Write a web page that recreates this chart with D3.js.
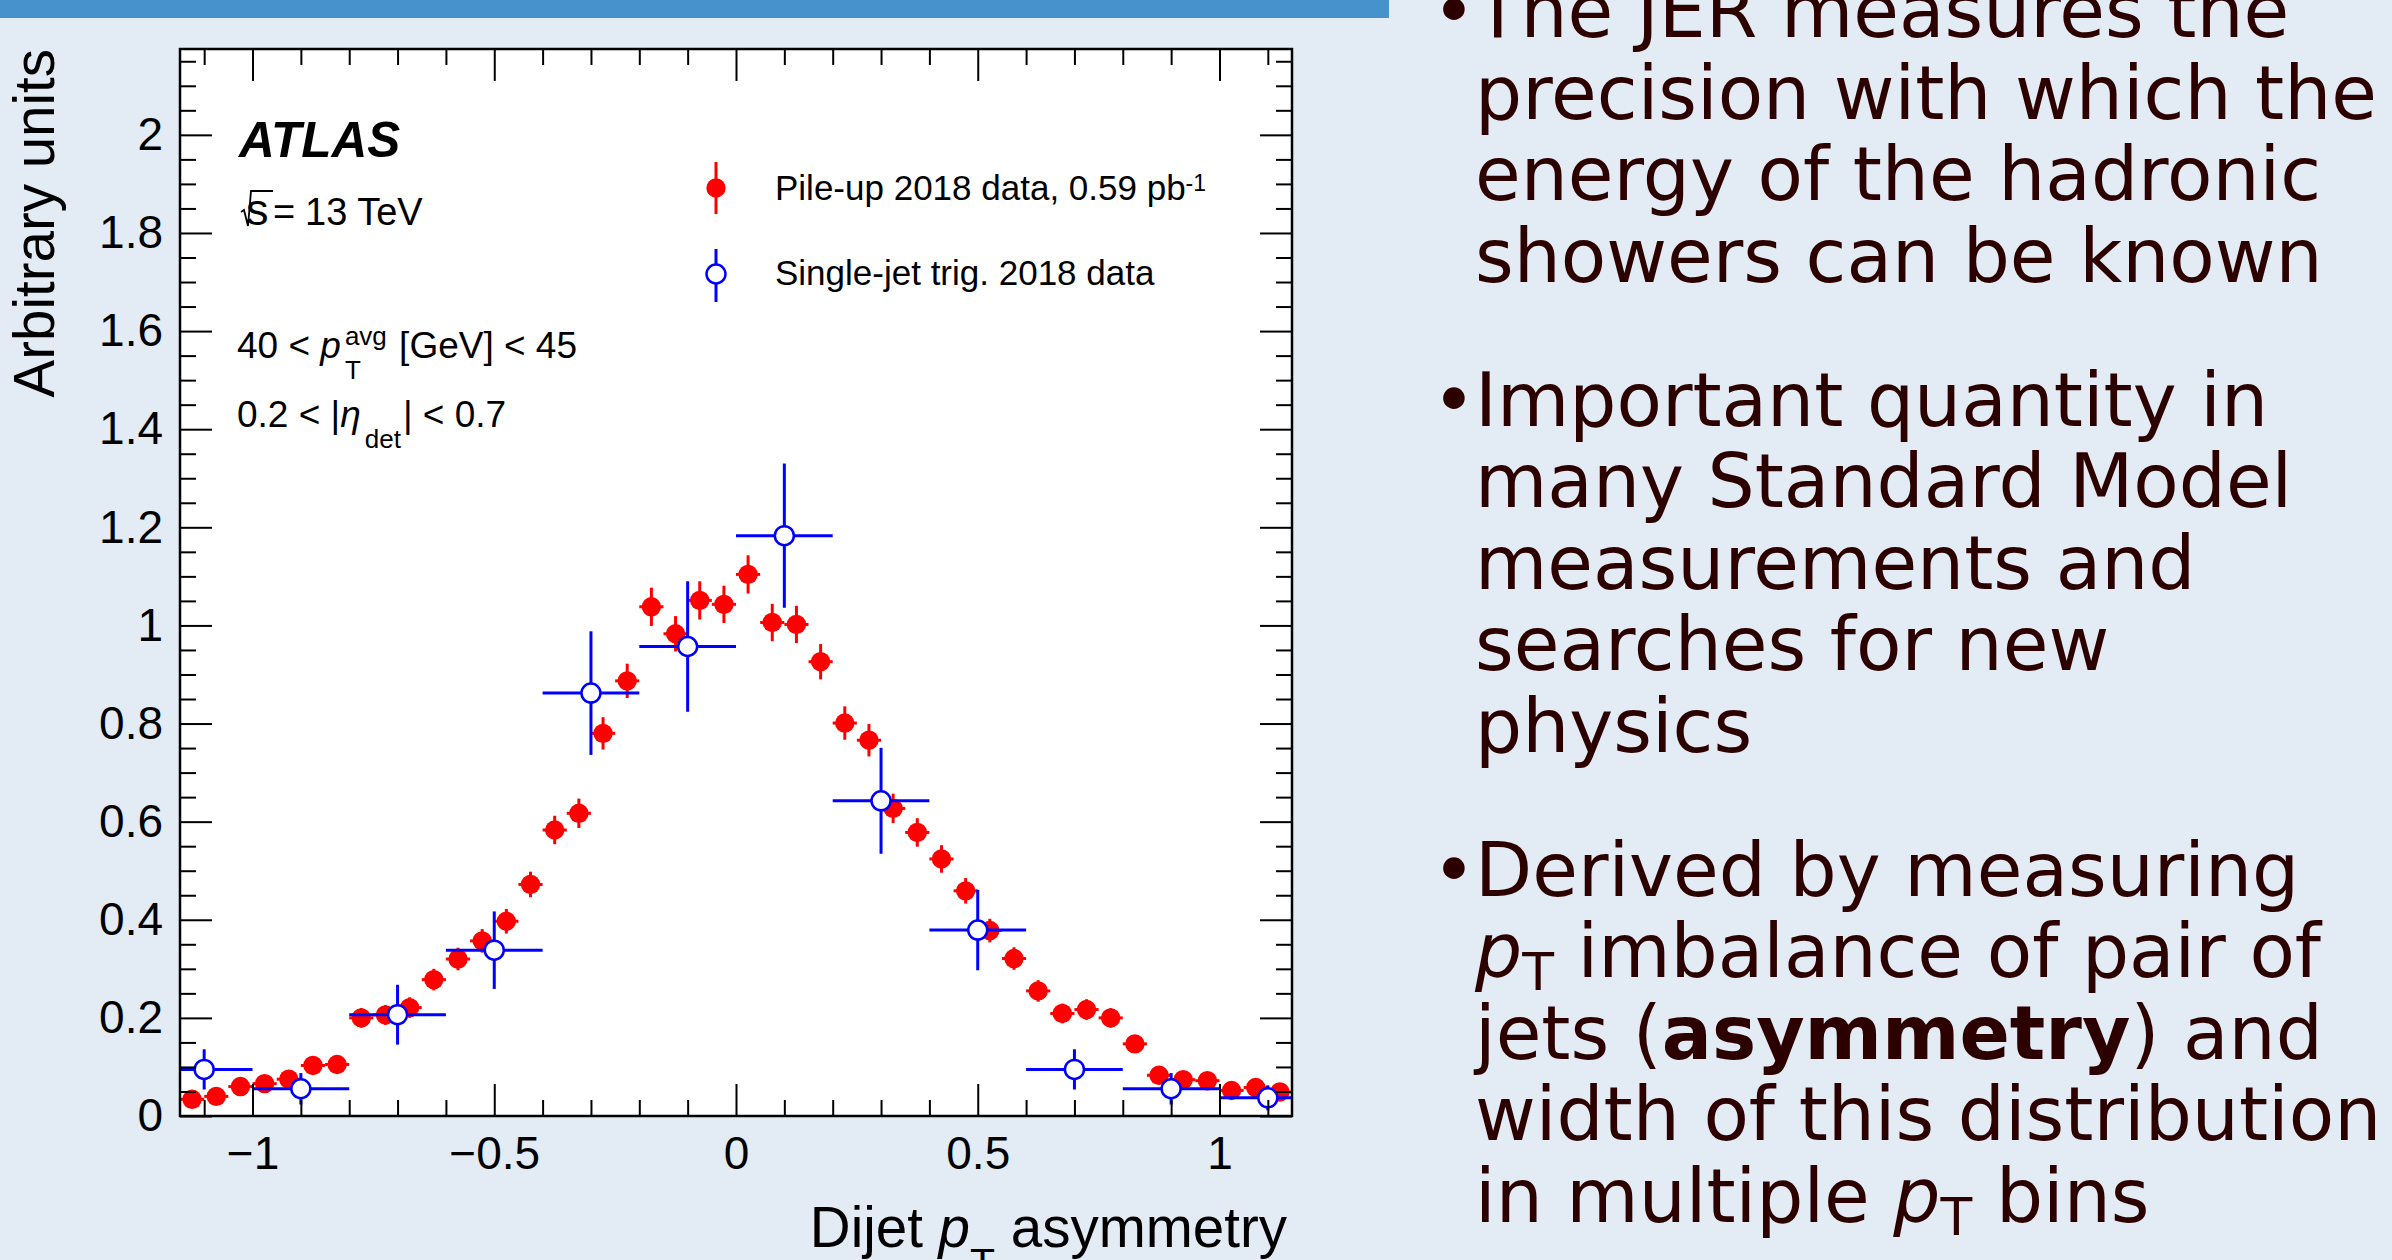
<!DOCTYPE html>
<html>
<head>
<meta charset="utf-8">
<script src="https://cdn.jsdelivr.net/npm/d3@7"></script>
<style>
  body { margin: 0; background: #e3ebf5; }
  text { white-space: pre; }
</style>
</head>
<body>
<svg width="2392" height="1260"></svg>
<script>
// pile-up data, bins of 0.05 in asymmetry
var redX = [-1.125, -1.075, -1.025, -0.975, -0.925, -0.875, -0.825, -0.775, -0.725, -0.675,
            -0.625, -0.575, -0.525, -0.475, -0.425, -0.375, -0.325, -0.275, -0.225, -0.175,
            -0.125, -0.075, -0.025, 0.025, 0.075, 0.125, 0.175, 0.225, 0.275, 0.325,
            0.375, 0.425, 0.475, 0.525, 0.575, 0.625, 0.675, 0.725, 0.775, 0.825,
            0.875, 0.925, 0.975, 1.025, 1.075, 1.125];
var redY = [0.034, 0.040, 0.060, 0.066, 0.075, 0.103, 0.105, 0.200, 0.206, 0.221,
            0.278, 0.320, 0.357, 0.397, 0.472, 0.583, 0.617, 0.780, 0.887, 1.038,
            0.983, 1.051, 1.043, 1.104, 1.006, 1.002, 0.926, 0.801, 0.766, 0.627,
            0.578, 0.524, 0.459, 0.378, 0.321, 0.255, 0.209, 0.217, 0.200, 0.147,
            0.083, 0.074, 0.072, 0.052, 0.058, 0.049];
var redErr = [0.010, 0.011, 0.013, 0.013, 0.014, 0.016, 0.016, 0.020, 0.020, 0.021,
              0.022, 0.023, 0.024, 0.025, 0.026, 0.029, 0.030, 0.033, 0.035, 0.039,
              0.036, 0.039, 0.038, 0.039, 0.038, 0.038, 0.036, 0.034, 0.033, 0.030,
              0.029, 0.028, 0.026, 0.024, 0.023, 0.022, 0.020, 0.021, 0.020, 0.018,
              0.015, 0.014, 0.014, 0.012, 0.012, 0.012];
var redHalfBin = 0.025;

// single-jet trigger data, bins of 0.2
var blueX = [-1.1, -0.9, -0.7, -0.5, -0.3, -0.1, 0.1, 0.3, 0.5, 0.7, 0.9, 1.1];
var blueY = [0.095, 0.0555, 0.2065, 0.338, 0.862, 0.957, 1.183, 0.6425, 0.379, 0.095, 0.0555, 0.037];
var blueErr = [0.041, 0.032, 0.061, 0.079, 0.126, 0.133, 0.147, 0.108, 0.082, 0.041, 0.032, 0.0255];
var blueHalfBin = 0.1;

// axis ticks
var xMajor = [-1, -0.5, 0, 0.5, 1];
var yMajor = [0, 0.2, 0.4, 0.6, 0.8, 1, 1.2, 1.4, 1.6, 1.8, 2];

// bullet text on the right, [style, text] pieces: i italic, s subscript, b bold
var notes = [
  [[["", "The JER measures the"]],
   [["", "precision with which the"]],
   [["", "energy of the hadronic"]],
   [["", "showers can be known"]]],
  [[["", "Important quantity in"]],
   [["", "many Standard Model"]],
   [["", "measurements and"]],
   [["", "searches for new"]],
   [["", "physics"]]],
  [[["", "Derived by measuring"]],
   [["i", "p"], ["s", "T"], ["", " imbalance of pair of"]],
   [["", "jets ("], ["b", "asymmetry"], ["", ") and"]],
   [["", "width of this distribution"]],
   [["", "in multiple "], ["i", "p"], ["s", "T"], ["", " bins"]]]
];

var rootFont = "'Liberation Sans', Arial, Helvetica, sans-serif";

var svg = d3.select("svg");

// header strip
svg.append("rect")
    .attr("x", 0).attr("y", 0)
    .attr("width", 1389).attr("height", 18)
    .attr("fill", "#4791cc");

// frame edges (note: "top" is a reserved window global, so prefixed names)
var fLeft = 180, fRight = 1292, fTop = 49, fBottom = 1116;

var x = d3.scaleLinear().domain([-1.15, 1.15]).range([fLeft, fRight]);
var y = d3.scaleLinear().domain([0, 2.175]).range([fBottom, fTop]);

svg.append("rect")
    .attr("x", fLeft).attr("y", fTop)
    .attr("width", fRight - fLeft).attr("height", fBottom - fTop)
    .attr("fill", "#fff");

svg.append("clipPath").attr("id", "plotclip")
  .append("rect")
    .attr("x", fLeft).attr("y", fTop)
    .attr("width", fRight - fLeft).attr("height", fBottom - fTop);

var plot = svg.append("g").attr("clip-path", "url(#plotclip)");

// red points: error bars then filled markers
var red = plot.append("g").selectAll("g")
    .data(redX.map(function(d, i) { return {x: d, y: redY[i], e: redErr[i]}; }))
  .enter().append("g");
red.append("line")
    .attr("x1", function(d) { return x(d.x); })
    .attr("x2", function(d) { return x(d.x); })
    .attr("y1", function(d) { return y(d.y - d.e); })
    .attr("y2", function(d) { return y(d.y + d.e); })
    .attr("stroke", "#f00").attr("stroke-width", 3);
red.append("line")
    .attr("x1", function(d) { return x(d.x - redHalfBin); })
    .attr("x2", function(d) { return x(d.x + redHalfBin); })
    .attr("y1", function(d) { return y(d.y); })
    .attr("y2", function(d) { return y(d.y); })
    .attr("stroke", "#f00").attr("stroke-width", 3);
red.append("circle")
    .attr("cx", function(d) { return x(d.x); })
    .attr("cy", function(d) { return y(d.y); })
    .attr("r", 9.7)
    .attr("fill", "#f00");

// blue points drawn over the red ones
var blue = plot.append("g").selectAll("g")
    .data(blueX.map(function(d, i) { return {x: d, y: blueY[i], e: blueErr[i]}; }))
  .enter().append("g");
blue.append("line")
    .attr("x1", function(d) { return x(d.x); })
    .attr("x2", function(d) { return x(d.x); })
    .attr("y1", function(d) { return y(d.y - d.e); })
    .attr("y2", function(d) { return y(d.y + d.e); })
    .attr("stroke", "#00f").attr("stroke-width", 3);
blue.append("line")
    .attr("x1", function(d) { return x(d.x - blueHalfBin); })
    .attr("x2", function(d) { return x(d.x + blueHalfBin); })
    .attr("y1", function(d) { return y(d.y); })
    .attr("y2", function(d) { return y(d.y); })
    .attr("stroke", "#00f").attr("stroke-width", 3);
blue.append("circle")
    .attr("cx", function(d) { return x(d.x); })
    .attr("cy", function(d) { return y(d.y); })
    .attr("r", 9.5)
    .attr("fill", "#fff")
    .attr("stroke", "#00f").attr("stroke-width", 2.5);

// axes, ticks pointing inwards like ROOT
var xMinor = d3.range(-11, 12).map(function(i) { return i / 10; })
    .filter(function(v) { return Math.abs(v * 2 - Math.round(v * 2)) > 1e-6; });
var yMinor = d3.range(1, 44).map(function(i) { return i / 20; })
    .filter(function(v) { return Math.abs(v * 5 - Math.round(v * 5)) > 1e-6; });
var fmt = d3.format("~g");

function styleAxis(g) {
  g.select(".domain").remove();
  g.selectAll(".tick line").attr("stroke", "#000").attr("stroke-width", 2);
  g.selectAll("text").attr("fill", "#000");
  g.attr("font-family", rootFont).attr("font-size", 46);
}

svg.append("g").attr("transform", "translate(0," + fBottom + ")")
    .call(d3.axisBottom(x).tickValues(xMajor).tickSize(-32).tickPadding(20).tickFormat(fmt))
    .call(styleAxis);
svg.append("g").attr("transform", "translate(0," + fBottom + ")")
    .call(d3.axisBottom(x).tickValues(xMinor).tickSize(-16).tickFormat(""))
    .call(styleAxis);
svg.append("g").attr("transform", "translate(0," + fTop + ")")
    .call(d3.axisTop(x).tickValues(xMajor).tickSize(-32).tickFormat(""))
    .call(styleAxis);
svg.append("g").attr("transform", "translate(0," + fTop + ")")
    .call(d3.axisTop(x).tickValues(xMinor).tickSize(-16).tickFormat(""))
    .call(styleAxis);
svg.append("g").attr("transform", "translate(" + fLeft + ",0)")
    .call(d3.axisLeft(y).tickValues(yMajor).tickSize(-32).tickPadding(17).tickFormat(fmt))
    .call(styleAxis);
svg.append("g").attr("transform", "translate(" + fLeft + ",0)")
    .call(d3.axisLeft(y).tickValues(yMinor).tickSize(-16).tickFormat(""))
    .call(styleAxis);
svg.append("g").attr("transform", "translate(" + fRight + ",0)")
    .call(d3.axisRight(y).tickValues(yMajor).tickSize(-32).tickFormat(""))
    .call(styleAxis);
svg.append("g").attr("transform", "translate(" + fRight + ",0)")
    .call(d3.axisRight(y).tickValues(yMinor).tickSize(-16).tickFormat(""))
    .call(styleAxis);

svg.append("rect")
    .attr("x", fLeft).attr("y", fTop)
    .attr("width", fRight - fLeft).attr("height", fBottom - fTop)
    .attr("fill", "none").attr("stroke", "#000").attr("stroke-width", 2.5);

// axis titles
var xt = svg.append("text")
    .attr("x", 1287).attr("y", 1247)
    .attr("text-anchor", "end")
    .attr("font-family", rootFont).attr("font-size", 56.5);
xt.append("tspan").text("Dijet ");
xt.append("tspan").attr("font-style", "italic").text("p");
xt.append("tspan").attr("font-size", 41).attr("dy", 30).text("T");
xt.append("tspan").attr("dy", -30).text(" asymmetry");

svg.append("text")
    .attr("transform", "translate(54," + fTop + ") rotate(-90)")
    .attr("text-anchor", "end")
    .attr("font-family", rootFont).attr("font-size", 56.5)
    .text("Arbitrary units");

// labels inside the frame
svg.append("text")
    .attr("x", 239).attr("y", 157)
    .attr("font-family", rootFont).attr("font-size", 49.5)
    .attr("font-weight", "bold").attr("font-style", "italic")
    .text("ATLAS");

// sqrt(s) drawn as a radical sign over a bigger s
svg.append("path")
    .attr("d", "M241,212 L244,210 L248,226 L251,191 L273,191")
    .attr("fill", "none").attr("stroke", "#000").attr("stroke-width", 1.8);
var sq = svg.append("g").attr("font-family", rootFont);
sq.append("text").attr("x", 246).attr("y", 225).attr("font-size", 45).text("s");
sq.append("text").attr("x", 273).attr("y", 225).attr("font-size", 38).text("=");
sq.append("text").attr("x", 305).attr("y", 225).attr("font-size", 38).text("13 TeV");

// text with a stacked sub/superscript after the main symbol
function scriptLabel(px, py, before, symbol, sub, sup, after) {
  var t = svg.append("text")
      .attr("x", px).attr("y", py)
      .attr("font-family", rootFont).attr("font-size", 37);
  t.append("tspan").text(before);
  t.append("tspan").attr("font-style", "italic").text(symbol);
  var sx = px + t.node().getComputedTextLength() + 4;
  var w = 0;
  if (sup) {
    var a = t.append("tspan").attr("x", sx).attr("y", py - 13).attr("font-size", 26).text(sup);
    w = Math.max(w, a.node().getComputedTextLength());
  }
  var b = t.append("tspan").attr("x", sx).attr("y", py + 21).attr("font-size", 26).text(sub);
  w = Math.max(w, b.node().getComputedTextLength());
  t.append("tspan").attr("x", sx + w + 2).attr("y", py).text(after);
}
scriptLabel(237, 358, "40 < ", "p", "T", "avg", " [GeV] < 45");
scriptLabel(237, 427, "0.2 < |", "\u03b7", "det", null, "| < 0.7");

// legend
var leg = svg.append("g").attr("font-family", rootFont).attr("font-size", 35);
leg.append("line").attr("x1", 716).attr("x2", 716).attr("y1", 162).attr("y2", 214)
    .attr("stroke", "#f00").attr("stroke-width", 3);
leg.append("circle").attr("cx", 716).attr("cy", 188).attr("r", 9.7).attr("fill", "#f00");
var l1 = leg.append("text").attr("x", 775).attr("y", 200);
l1.append("tspan").text("Pile-up 2018 data, 0.59 pb");
l1.append("tspan").attr("font-size", 23).attr("dy", -9).text("-1");
leg.append("line").attr("x1", 716).attr("x2", 716).attr("y1", 249).attr("y2", 302)
    .attr("stroke", "#00f").attr("stroke-width", 3);
leg.append("circle").attr("cx", 716).attr("cy", 274).attr("r", 9.5)
    .attr("fill", "#fff").attr("stroke", "#00f").attr("stroke-width", 2.5);
leg.append("text").attr("x", 775).attr("y", 285).text("Single-jet trig. 2018 data");

// right-hand bullet list
var side = svg.append("g")
    .attr("font-family", "'DejaVu Sans', sans-serif")
    .attr("font-size", 74.3)
    .attr("fill", "#2d0000");
var lineNo = 0;
notes.forEach(function(para, p) {
  para.forEach(function(line, j) {
    var by = 37 + lineNo * 81.5 + p * 62.5;
    if (j === 0) side.append("text").attr("x", 1432).attr("y", by).text("\u2022");
    var t = side.append("text").attr("x", 1475).attr("y", by);
    var shifted = false;
    line.forEach(function(seg) {
      var s = t.append("tspan").text(seg[1]);
      if (seg[0] === "i") s.attr("font-style", "italic");
      if (seg[0] === "b") s.attr("font-weight", "bold");
      if (seg[0] === "s") { s.attr("font-size", 52).attr("dy", 13); shifted = true; }
      else if (shifted) { s.attr("dy", -13); shifted = false; }
    });
    lineNo++;
  });
});
</script>
</body>
</html>
